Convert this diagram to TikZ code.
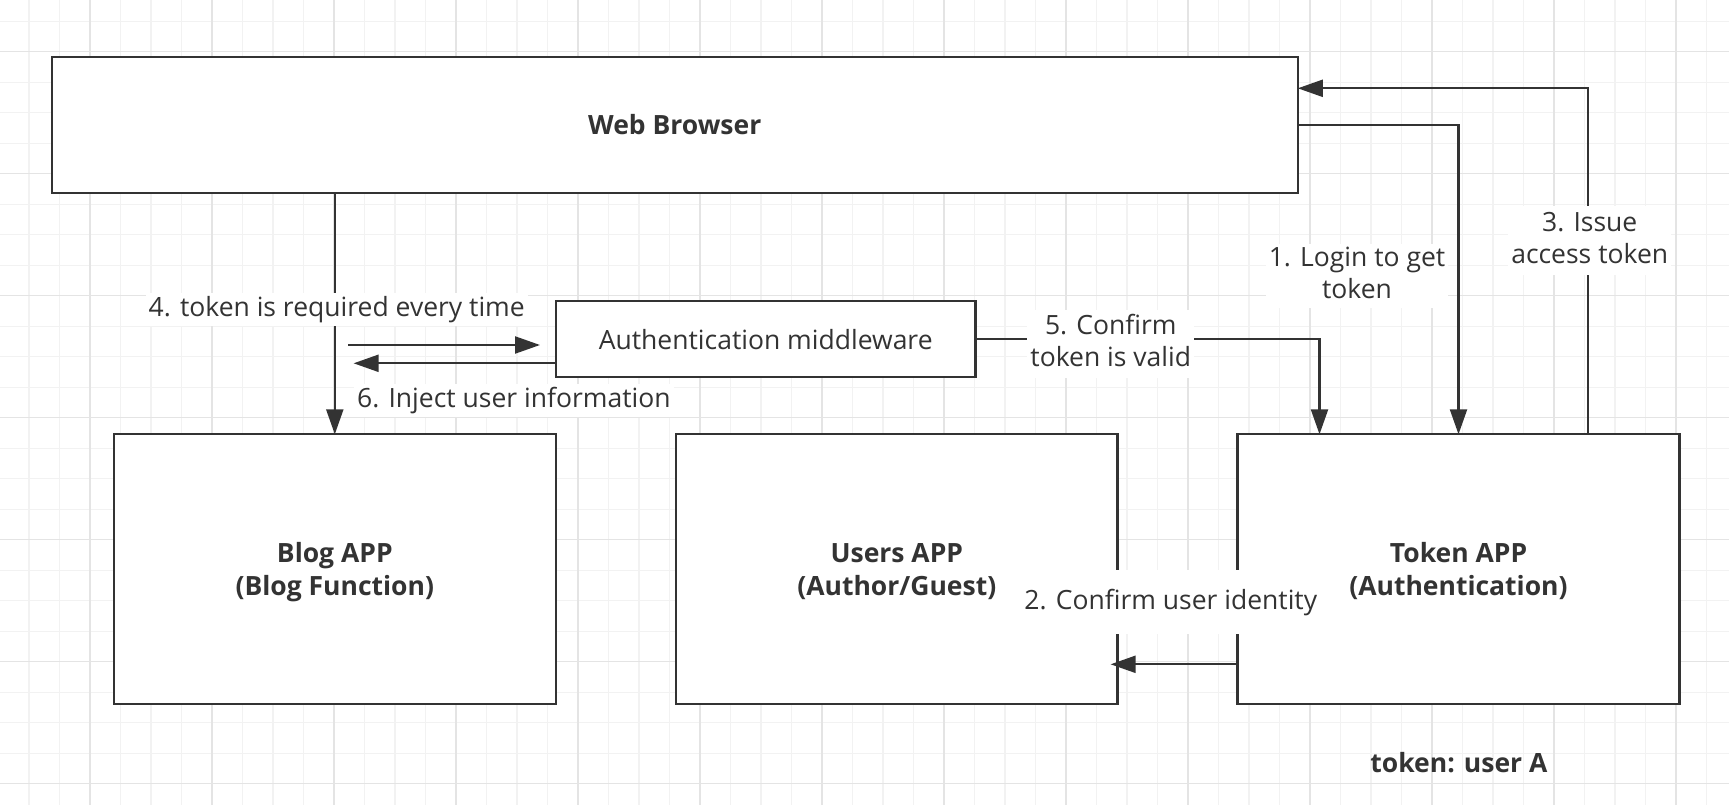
\documentclass[tikz,border=0pt]{standalone}
\usepackage{fontspec}
\setmainfont{Open Sans}
\usetikzlibrary{arrows.meta}
\definecolor{ink}{HTML}{333333}
\definecolor{gminor}{HTML}{F2F2F2}
\definecolor{gmajor}{HTML}{E4E4E4}
\newcommand\lstrut{\rule[-6pt]{0pt}{26pt}}
\newcommand\bstrut{\rule[-6pt]{0pt}{32pt}}
\begin{document}
\begin{tikzpicture}[x=1pt,y=-1pt,
  gridminor/.style={draw=gminor, line width=1.2pt},
  gridmajor/.style={draw=gmajor, line width=1.5pt},
  box/.style={draw=ink, line width=2.3pt, fill=white, inner sep=0pt, outer sep=0pt, text=ink, align=center,
    font=\fontsize{26.5}{33}\selectfont\bfseries},
  plainbox/.style={box, font=\fontsize{26.5}{32}\selectfont},
  conn/.style={draw=ink, line width=2.2pt, -{Triangle[length=25pt,width=17pt]}},
  lab/.style={fill=white, text=ink, align=center, inner xsep=3pt, inner ysep=3pt,
    font=\fontsize{26.5}{32}\selectfont},
  note/.style={text=ink, inner sep=0pt, font=\fontsize{26.5}{33}\selectfont\bfseries}]
\useasboundingbox (0,0) rectangle (1729,805);
\fill[white] (0,0) rectangle (1729,805);
% grid
\foreach \i in {-2,...,53} {\draw[gridminor] ({90+30.5*\i},0) -- ({90+30.5*\i},805);}
\foreach \j in {-1,...,25} {\draw[gridminor] (0,{51.7+30.5*\j}) -- (1729,{51.7+30.5*\j});}
\foreach \i in {0,...,13} {\draw[gridmajor] ({90+122*\i},0) -- ({90+122*\i},805);}
\foreach \j in {0,...,6} {\draw[gridmajor] (0,{51.7+122*\j}) -- (1729,{51.7+122*\j});}
% boxes
\node[box, minimum width=1246.1pt, minimum height=136pt] (web) at (674.75,124.7) {\bstrut Web Browser};
\node[plainbox, minimum width=419.4pt, minimum height=76pt] (auth) at (765.7,339) {\bstrut Authentication middleware};
\node[box, minimum width=442pt, minimum height=270pt] (blog) at (334.8,569.3) {\bstrut Blog APP\\\bstrut (Blog Function)};
\node[box, minimum width=441.6pt, minimum height=270pt] (users) at (896.8,569.3) {\bstrut Users APP\\\bstrut (Author/Guest)};
\node[box, minimum width=442pt, minimum height=270pt] (token) at (1458.5,569.3) {\bstrut Token APP\\\bstrut (Authentication)};
% free ends
\coordinate (r4s) at (348.3,345);
\coordinate (r4e) at (540,345);
\coordinate (l6e) at (353.6,363.3);
% connectors
\draw[conn] (blog.north |- web.south) -- (blog.north);
\draw[conn] (r4s) -- (r4e);
\draw[conn] ([yshift=-24.3pt]auth.west) -- (l6e);
\draw[conn] (auth.east) -| ([xshift=-139pt]token.north);
\draw[conn] (web.east) -| (token.north);
\draw[conn] ([xshift=129.5pt]token.north) |- ([yshift=36.4pt]web.east);
\draw[conn, shorten >=-7pt] ([yshift=-95pt]token.west) -- ([yshift=-95pt]users.east);
% labels
\node[lab] (l4) at (336.7,309.7) {\lstrut 4. token is required every time};
\node[lab] (l6) at (513.9,400.8) {\lstrut 6. Inject user information};
\node[lab, inner ysep=5pt] (l5) at (1110.8,343.8) {\lstrut 5. Confirm\\\lstrut token is valid};
\node[lab] (l1) at (1357,275.5) {\lstrut 1. Login to get\\\lstrut token};
\node[lab, inner ysep=5pt] (l3) at (1589.7,240.5) {\lstrut 3. Issue\\\lstrut access token};
\node[lab, inner ysep=18.6pt] (l2) at (1170.8,602.3) {\lstrut 2. Confirm user identity};
\node[note] (tok) at (1458.9,765.7) {\lstrut token: user A};
\end{tikzpicture}
\end{document}
